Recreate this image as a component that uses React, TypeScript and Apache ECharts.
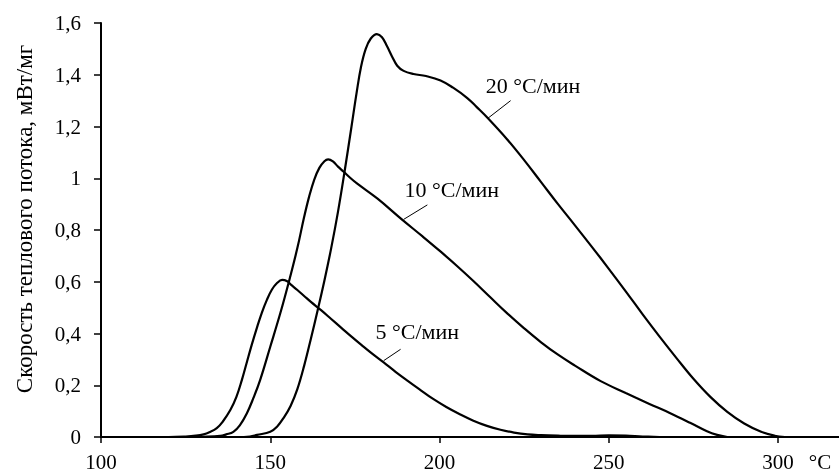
import React, { useEffect, useRef } from "react";
import * as echarts from "echarts";

const FONT = "'Liberation Serif', 'Times New Roman', serif";

const xTicks = [100, 150, 200, 250, 300];

const x5 = [110, 120, 125, 128, 130.3, 132, 134.2, 136, 138.2, 140, 141.6, 143, 144.5, 146, 147.5, 149, 150.5, 152, 153.5, 155, 156, 158, 160, 162, 165, 168, 171, 174, 177, 180, 183.5, 187, 190.5, 194, 198, 202, 206, 210, 214, 218, 222, 226, 230, 235, 240, 245, 250, 255, 260, 265];
const y5 = [0, 0, 0.002, 0.005, 0.01, 0.018, 0.034, 0.06, 0.104, 0.155, 0.22, 0.285, 0.355, 0.42, 0.48, 0.53, 0.57, 0.595, 0.607, 0.602, 0.59, 0.568, 0.545, 0.522, 0.49, 0.456, 0.422, 0.388, 0.355, 0.323, 0.288, 0.252, 0.218, 0.185, 0.148, 0.116, 0.088, 0.063, 0.043, 0.028, 0.017, 0.01, 0.007, 0.005, 0.004, 0.004, 0.006, 0.005, 0.002, 0];

const x10 = [125, 130, 135.2, 137, 139.1, 141, 143.1, 145, 147, 150, 153, 155.5, 158, 160, 161.5, 163, 164.5, 166, 167.1, 168.5, 170, 171.7, 173.5, 175.6, 181.6, 188.5, 195, 200, 205, 210, 215, 220, 225, 230, 235, 240, 247.6, 255, 262, 268, 274, 279, 282, 285];
const y10 = [0, 0.001, 0.004, 0.01, 0.02, 0.045, 0.092, 0.15, 0.22, 0.349, 0.48, 0.6, 0.73, 0.85, 0.93, 0.995, 1.04, 1.066, 1.073, 1.065, 1.045, 1.025, 1.003, 0.98, 0.922, 0.845, 0.775, 0.72, 0.663, 0.603, 0.54, 0.478, 0.42, 0.366, 0.318, 0.276, 0.216, 0.17, 0.128, 0.093, 0.055, 0.022, 0.008, 0];

const x20 = [140, 144, 146.1, 150, 152, 154, 156, 158, 160, 162, 164, 166, 168, 170, 172, 174, 175.5, 176.8, 178.2, 179.7, 181.5, 183, 184.5, 186, 187.5, 189.4, 192.3, 196, 200.3, 204, 208.2, 211, 214.3, 220, 225, 230, 235, 240, 245, 250, 255, 260, 265, 270, 275, 280, 285, 290, 295, 299, 302];
const y20 = [0, 0.002, 0.008, 0.02, 0.04, 0.075, 0.12, 0.185, 0.275, 0.38, 0.49, 0.605, 0.73, 0.87, 1.03, 1.2, 1.33, 1.43, 1.5, 1.54, 1.557, 1.545, 1.51, 1.47, 1.435, 1.415, 1.403, 1.395, 1.378, 1.35, 1.31, 1.275, 1.232, 1.15, 1.07, 0.985, 0.9, 0.818, 0.735, 0.65, 0.563, 0.474, 0.388, 0.305, 0.225, 0.155, 0.097, 0.052, 0.02, 0.005, 0];

const seriesNames = ["5 °C/мин", "10 °C/мин", "20 °C/мин"];
// annotation anchors in data coordinates
const annotations = [
  { text: "5 °C/мин", label: [193.4, 0.408], from: [188.5, 0.339], to: [183.5, 0.295] },
  { text: "10 °C/мин", label: [203.6, 0.955], from: [196.4, 0.897], to: [189.4, 0.841] },
  { text: "20 °C/мин", label: [227.6, 1.36], from: [221, 1.3], to: [214.3, 1.232] },
];

const zip = (xs: number[], ys: number[]) => xs.map((x, i) => [x, ys[i]]);

export default function App() {
  const ref = useRef<HTMLDivElement>(null);
  useEffect(() => {
    if (!ref.current) return;
    const chart = echarts.init(ref.current, null, { renderer: "svg" });
    const seriesData = [zip(x5, y5), zip(x10, y10), zip(x20, y20)];
    chart.setOption({
      animation: false,
      grid: { left: 101, top: 23, right: 0, bottom: 37 },
      xAxis: {
        type: "value",
        min: 100,
        max: 318,
        axisLine: { lineStyle: { color: "#000", width: 2 } },
        axisTick: { show: true, customValues: xTicks, length: 6, lineStyle: { color: "#000", width: 1.5 } },
        axisLabel: { customValues: xTicks, color: "#000", fontSize: 21, fontFamily: FONT, margin: 14 },
        splitLine: { show: false },
      },
      yAxis: {
        type: "value",
        min: 0,
        max: 1.6,
        interval: 0.2,
        axisLine: { show: true, lineStyle: { color: "#000", width: 2 } },
        axisTick: { show: true, length: 7, lineStyle: { color: "#000", width: 1.5 } },
        axisLabel: {
          color: "#000",
          fontSize: 21,
          fontFamily: FONT,
          margin: 20,
          formatter: (v: number) => String(Math.round(v * 10) / 10).replace(".", ","),
        },
        splitLine: { show: false },
      },
      series: seriesData.map((d, i) => ({
        name: seriesNames[i],
        type: "line",
        data: d,
        symbol: "none",
        smooth: 0.4,
        lineStyle: { color: "#000", width: 2.2 },
      })),
    });
    const px = (p: number[]) => chart.convertToPixel({ gridIndex: 0 }, p) as number[];
    const graphics: any[] = [
      {
        type: "text",
        x: 24,
        y: 219,
        rotation: Math.PI / 2,
        style: {
          text: "Скорость теплового потока, мВт/мг",
          fill: "#000",
          font: `23px ${FONT}`,
          align: "center",
          verticalAlign: "middle",
        },
      },
      {
        type: "text",
        x: 820,
        y: 451,
        style: { text: "°C", fill: "#000", font: `21px ${FONT}`, align: "center", verticalAlign: "top" },
      },
    ];
    annotations.forEach((a) => {
      const l = px(a.label);
      const f = px(a.from);
      const t = px(a.to);
      graphics.push({
        type: "text",
        x: l[0],
        y: l[1],
        style: { text: a.text, fill: "#000", font: `22px ${FONT}`, align: "center", verticalAlign: "middle" },
      });
      graphics.push({
        type: "line",
        shape: { x1: f[0], y1: f[1], x2: t[0], y2: t[1] },
        style: { stroke: "#000", lineWidth: 1 },
      });
    });
    chart.setOption({ graphic: graphics });
    return () => chart.dispose();
  }, []);
  return <div ref={ref} style={{ position: "fixed", left: 0, top: 0, width: 839, height: 474 }} />;
}
